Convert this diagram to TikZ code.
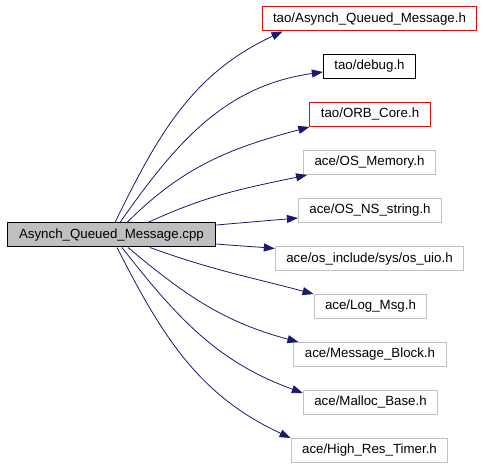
\documentclass[tikz,border=0pt]{standalone}
\usepackage{fontspec}
\setmainfont{Liberation Sans}
\usetikzlibrary{arrows.meta}
\definecolor{edgeblue}{HTML}{191970}
\definecolor{rootgray}{HTML}{BFBFBF}
\definecolor{boxgray}{HTML}{C0C0C0}

\begin{document}
\begin{tikzpicture}[x=1pt,y=1pt,
    file/.style={draw,line width=1pt,minimum height=24pt,inner ysep=0pt,inner xsep=11pt,
        font=\fontsize{13.3}{15}\selectfont},
    rootfile/.style={file,draw=black,fill=rootgray,inner xsep=12pt},
    taofile/.style={file,draw=red},
    plainfile/.style={file,draw=black},
    acefile/.style={file,draw=boxgray},
    dep/.style={edgeblue,line width=0.8pt,-{Triangle[length=11pt,width=8pt]}}]
        \useasboundingbox (0,0) rectangle (483,467);
        \fill[white] (0,0) rectangle (483,467);
        \node[rootfile] (src) at (111.5,232) {Asynch\_Queued\_Message.cpp};
        % tao headers
        \node[taofile] (aqm) at (369.5,448) {tao/Asynch\_Queued\_Message.h};
        \node[plainfile] (debug) at (369.5,400.5) {tao/debug.h};
        \node[taofile] (orbcore) at (370,352.5) {tao/ORB\_Core.h};
        % ace headers
        \node[acefile] (osmem) at (369.5,304.5) {ace/OS\_Memory.h};
        \node[acefile] (osstr) at (370,256.5) {ace/OS\_NS\_string.h};
        \node[acefile] (osuio) at (369.5,208) {ace/os\_include/sys/os\_uio.h};
        \node[acefile] (logmsg) at (370.5,160.5) {ace/Log\_Msg.h};
        \node[acefile] (msgblk) at (370,112.5) {ace/Message\_Block.h};
        \node[acefile] (malloc) at (370.5,64.5) {ace/Malloc\_Base.h};
        \node[acefile] (hrtimer) at (369.5,16.5) {ace/High\_Res\_Timer.h};

        % edges going up
        \draw[dep] ([xshift=3.5pt]src.north) to[out=64,in=205] ([xshift=21pt]aqm.south west);
        \draw[dep] ([xshift=8.5pt]src.north) to[out=55,in=188] ([yshift=-5.5pt]debug.west);
        \draw[dep] ([xshift=15.5pt]src.north) to[out=45,in=195] (orbcore.south west);
        \draw[dep] ([xshift=36.5pt]src.north) to[out=25,in=192] ([xshift=4pt]osmem.south west);
        \draw[dep] ([yshift=10pt]src.east) to[out=5,in=185] ([yshift=-7.5pt]osstr.west);
        % edges going down
        \draw[dep] ([yshift=-9pt]src.east) to[out=-5,in=175] ([yshift=-2pt]osuio.north west);
        \draw[dep] ([xshift=38.5pt]src.south) to[out=-20,in=165] (logmsg.north west);
        \draw[dep] ([xshift=16.5pt]src.south) to[out=-40,in=165] ([xshift=5pt]msgblk.north west);
        \draw[dep] ([xshift=10.5pt]src.south) to[out=-52,in=160] ([yshift=-3pt]malloc.north west);
        \draw[dep] ([xshift=5.5pt]src.south) to[out=-63,in=155] (hrtimer.north west);
\end{tikzpicture}
\end{document}
